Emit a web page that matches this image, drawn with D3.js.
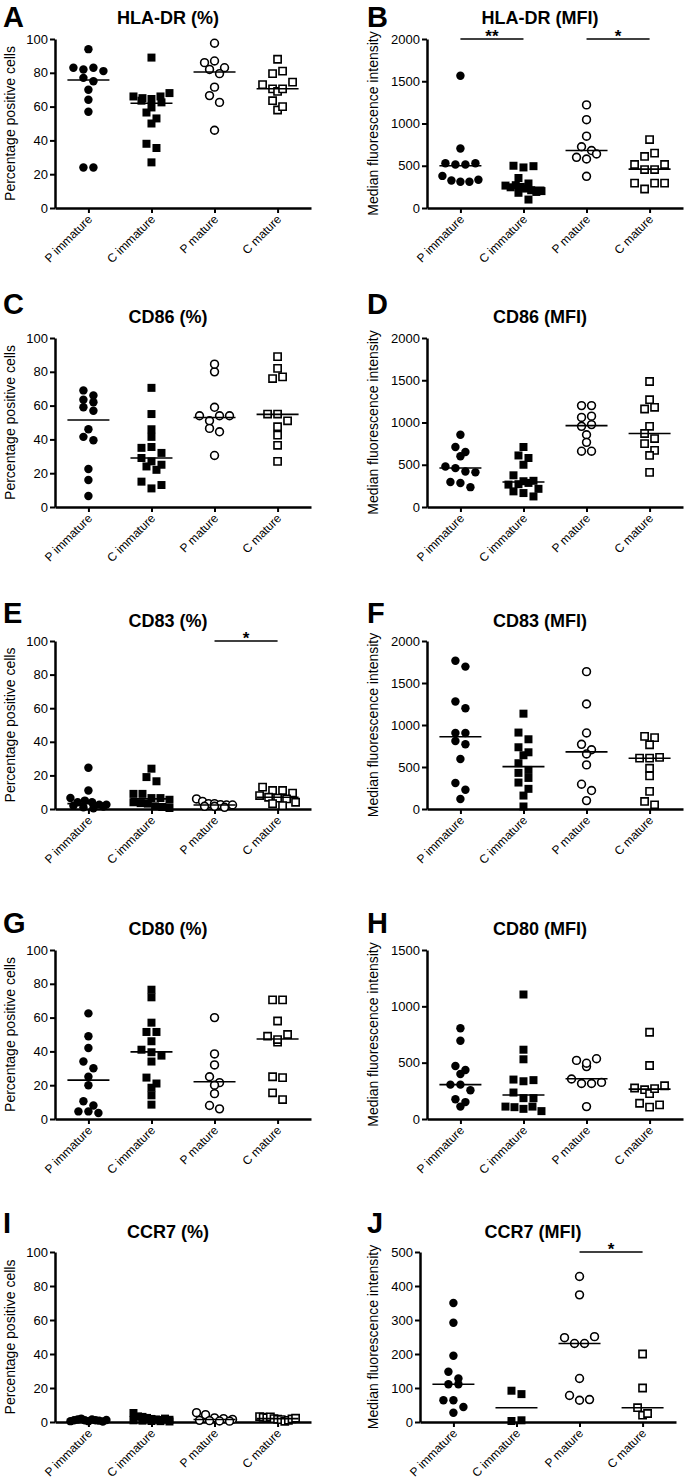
<!DOCTYPE html>
<html>
<head>
<meta charset="utf-8">
<script src="https://cdn.jsdelivr.net/npm/d3@7"></script>
<style>
  body { margin: 0; background: #fff; }
  svg { display: block; font-family: "Liberation Sans", Arial, Helvetica, sans-serif; }
</style>
</head>
<body>
<svg id="chart" width="685" height="1481"></svg>
<script>
const categories = ["P immature", "C immature", "P mature", "C mature"]

const pctTicks = [0, 20, 40, 60, 80, 100]
const mfiTicks = [0, 500, 1000, 1500, 2000]
const cd80MfiTicks = [0, 500, 1000, 1500]
const ccr7MfiTicks = [0, 100, 200, 300, 400, 500]

// values per group, in category order
const hladrPct = [
  [94, 83, 82, 83, 81, 77, 75, 70, 64, 57, 24, 24],
  [89, 66, 65, 63.5, 64.5, 66, 68, 59.5, 62.5, 56.5, 53, 50, 38, 35.5, 27],
  [97.5, 86, 87, 83, 82, 79.5, 71.5, 66.5, 62.5, 46],
  [88, 79.5, 81, 73, 70.5, 69, 70.5, 74.5, 63.5, 58, 60]
]
const hladrPctMedian = [75.7, 62, 80.5, 70.6]

const hladrMfi = [
  [1565, 705, 530, 515, 515, 530, 380, 325, 310, 310, 335],
  [500, 480, 495, 355, 290, 265, 245, 270, 250, 230, 210, 190, 180, 200, 100],
  [1220, 1045, 850, 725, 680, 600, 580, 640, 375],
  [810, 610, 650, 515, 455, 455, 515, 295, 225, 295, 295]
]
const hladrMfiMedian = [500, 245, 680, 460]

const cd86Pct = [
  [69, 66, 63.5, 59, 57, 62, 46, 41.5, 39.5, 22.5, 16, 6.5],
  [70.5, 55, 46, 41.5, 35, 35.5, 32, 29, 27, 24, 25, 22, 15, 11, 13],
  [80, 84.5, 59, 54, 51, 54, 54, 46.5, 44.5, 30.5],
  [89, 82, 76, 77, 55, 55, 51, 47.5, 42.5, 36.5, 27]
]
const cd86PctMedian = [51.5, 29, 53, 54.8]

const cd86Mfi = [
  [855, 710, 650, 600, 480, 460, 420, 410, 295, 285, 235],
  [710, 610, 580, 500, 375, 305, 265, 270, 285, 310, 215, 185, 165, 125],
  [1200, 1200, 1060, 1075, 955, 975, 855, 765, 660, 660],
  [1485, 1270, 1160, 1180, 955, 870, 750, 810, 670, 610, 410]
]
const cd86MfiMedian = [462, 296, 963, 870]

const cd83Pct = [
  [24.5, 11, 6.5, 4, 5, 4, 2.6, 2, 2.6, 1, 0.5, 1.5],
  [24, 19, 16.5, 9, 9, 6.5, 6.5, 5.5, 4, 3.5, 3.2, 1.6, 1.2, 0.6],
  [6, 4.5, 3.2, 3.2, 2.6, 2.4, 2.4, 1.6, 1.6, 1],
  [13, 11, 11, 9.5, 8, 7, 6.5, 6, 3.2, 4, 2]
]
const cd83PctMedian = [3.2, 6, 2.4, 7]

const cd83Mfi = [
  [1765, 1695, 1280, 1200, 905, 905, 810, 770, 595, 310, 230, 120],
  [1135, 910, 830, 735, 675, 640, 545, 465, 430, 370, 315, 240, 160, 30],
  [1635, 1250, 905, 770, 705, 655, 525, 295, 220, 100],
  [865, 850, 765, 605, 605, 615, 485, 395, 210, 90, 50]
]
const cd83MfiMedian = [860, 505, 680, 605]

const cd80Pct = [
  [62.5, 49, 42, 34, 30, 25, 20, 10.5, 8, 4.5, 4.5, 3.5],
  [76.5, 72, 57, 51.5, 51.5, 46, 41, 39.5, 37.5, 34, 24.5, 21, 18.5, 14, 8.5],
  [60, 38.5, 32, 25, 21.5, 20, 15, 8, 6],
  [70.5, 70.5, 58, 49, 45.5, 47, 50, 25, 24.5, 15.5, 11.5]
]
const cd80PctMedian = [23, 39.7, 22, 47.3]

const cd80Mfi = [
  [805, 695, 470, 435, 400, 305, 305, 255, 175, 150, 110],
  [1105, 615, 530, 350, 335, 345, 235, 185, 185, 110, 105, 90, 110, 70],
  [520, 465, 495, 535, 355, 315, 315, 325, 110],
  [770, 475, 275, 260, 225, 270, 295, 140, 105, 125]
]
const cd80MfiMedian = [305, 213, 357, 265]

const ccr7Pct = [
  [0.5, 1, 1.5, 2, 1, 0.5, 1.5, 1, 0.8, 0.3, 1.2],
  [5.3, 3.3, 3, 2.4, 1.8, 1.5, 1.2, 1, 0.8, 0.6, 0.5, 0.3, 2, 1.3],
  [5.5, 4.3, 2.4, 2, 1.5, 1, 0.8, 0.6, 0.5],
  [3.2, 2.8, 2.5, 3, 2, 1.6, 1.4, 0.4, 1, 1.8, 2.2]
]
const ccr7PctMedian = [1, 1.3, 1.5, 2]

const ccr7Mfi = [
  [350, 292, 195, 148, 128, 111, 111, 64, 64, 44, 27],
  [92, 82, 3, 5],
  [428, 374, 248, 231, 231, 251, 128, 78, 64, 66],
  [200, 100, 42, 20, 25]
]
const ccr7MfiMedian = [111, 42, 231, 42]

// significance bars: [from category, to category, label]
const hladrMfiSig = [[0, 1, "**"], [2, 3, "*"]]
const cd83PctSig = [[2, 3, "*"]]
const ccr7MfiSig = [[2, 3, "*"]]

const pctLabel = "Percentage positive cells"
const mfiLabel = "Median fluorescence intensity"

const panels = [
  {letter: "A", title: "HLA-DR (%)", values: hladrPct, medians: hladrPctMedian, ticks: pctTicks, ylabel: pctLabel},
  {letter: "B", title: "HLA-DR (MFI)", values: hladrMfi, medians: hladrMfiMedian, ticks: mfiTicks, ylabel: mfiLabel, sig: hladrMfiSig},
  {letter: "C", title: "CD86 (%)", values: cd86Pct, medians: cd86PctMedian, ticks: pctTicks, ylabel: pctLabel},
  {letter: "D", title: "CD86 (MFI)", values: cd86Mfi, medians: cd86MfiMedian, ticks: mfiTicks, ylabel: mfiLabel},
  {letter: "E", title: "CD83 (%)", values: cd83Pct, medians: cd83PctMedian, ticks: pctTicks, ylabel: pctLabel, sig: cd83PctSig},
  {letter: "F", title: "CD83 (MFI)", values: cd83Mfi, medians: cd83MfiMedian, ticks: mfiTicks, ylabel: mfiLabel},
  {letter: "G", title: "CD80 (%)", values: cd80Pct, medians: cd80PctMedian, ticks: pctTicks, ylabel: pctLabel},
  {letter: "H", title: "CD80 (MFI)", values: cd80Mfi, medians: cd80MfiMedian, ticks: cd80MfiTicks, ylabel: mfiLabel},
  {letter: "I", title: "CCR7 (%)", values: ccr7Pct, medians: ccr7PctMedian, ticks: pctTicks, ylabel: pctLabel},
  {letter: "J", title: "CCR7 (MFI)", values: ccr7Mfi, medians: ccr7MfiMedian, ticks: ccr7MfiTicks, ylabel: mfiLabel, sig: ccr7MfiSig}
]

// page layout
const rows = [
  {letterY: 27, titleY: 24, top: 39, bottom: 208},
  {letterY: 314, titleY: 323, top: 338, bottom: 507},
  {letterY: 623, titleY: 627, top: 641, bottom: 809},
  {letterY: 933, titleY: 935, top: 950, bottom: 1119},
  {letterY: 1233, titleY: 1238, top: 1252, bottom: 1422}
]
const cols = [
  {letterX: 3, labelX: 10, tickStart: 28},
  {letterX: 367, labelX: 373, tickStart: 393}
]

const shapes = [
  {type: d3.symbolCircle, size: 56, fill: "#000"},
  {type: d3.symbolSquare, size: 64, fill: "#000"},
  {type: d3.symbolCircle, size: 48, fill: "#fff"},
  {type: d3.symbolSquare, size: 52, fill: "#fff"}
]

// spread points that sit at about the same height side by side
function swarm(ys) {
  const order = d3.range(ys.length).sort((a, b) => ys[a] - ys[b])
  const offs = ys.map(() => 0)
  let group = []
  const flush = () => {
    const n = group.length
    const step = n > 1 ? Math.min(10, 36 / (n - 1)) : 0
    group.slice().sort((a, b) => a - b).forEach((k, j) => offs[k] = (j - (n - 1) / 2) * step)
    group = []
  }
  order.forEach(k => {
    if (group.length && ys[k] - ys[group[0]] >= 7) flush()
    group.push(k)
  })
  flush()
  return offs
}

const svg = d3.select("#chart")

panels.forEach((p, i) => {
  const col = cols[i % 2]
  const row = rows[Math.floor(i / 2)]
  const yMax = p.ticks[p.ticks.length - 1]
  const axisX = col.tickStart + String(yMax).length * 7 + 6

  const x = d3.scalePoint().domain(categories).range([axisX, axisX + 256]).padding(0.53)
  const y = d3.scaleLinear().domain([0, yMax]).range([row.bottom, row.top])

  const g = svg.append("g")

  g.append("text")
    .attr("x", col.letterX).attr("y", row.letterY)
    .attr("font-size", 29).attr("font-weight", "bold")
    .text(p.letter)

  g.append("text")
    .attr("x", axisX + 113).attr("y", row.titleY)
    .attr("text-anchor", "middle")
    .attr("font-size", 18).attr("font-weight", "bold")
    .text(p.title)

  g.append("text")
    .attr("transform", `translate(${col.labelX},${(row.top + row.bottom) / 2}) rotate(-90)`)
    .attr("text-anchor", "middle").attr("dy", "0.35em")
    .attr("font-size", 14)
    .text(p.ylabel)

  const yAxis = g.append("g")
    .attr("transform", `translate(${axisX},0)`)
    .call(d3.axisLeft(y).tickValues(p.ticks).tickFormat(d3.format("d"))
      .tickSize(5).tickPadding(2).tickSizeOuter(0))

  const xAxis = g.append("g")
    .attr("transform", `translate(0,${row.bottom})`)
    .call(d3.axisBottom(x).tickSize(5).tickSizeOuter(0))

  ;[yAxis, xAxis].forEach(a => {
    a.attr("font-family", null).attr("font-size", null)
    a.select(".domain").attr("stroke-width", 2.5)
    a.selectAll(".tick line").attr("stroke-width", 2)
    a.selectAll("text").attr("fill", "#000")
  })
  yAxis.selectAll("text").attr("font-size", 13)

  xAxis.selectAll("text")
    .attr("font-size", 12)
    .attr("x", 0).attr("y", 0).attr("dy", 0)
    .attr("text-anchor", "end")
    .attr("transform", "translate(4,12) rotate(-45)")

  p.values.forEach((vals, ci) => {
    const cx = x(categories[ci])
    const ys = vals.map(v => y(v))
    const offs = swarm(ys)
    const shape = shapes[ci]

    g.selectAll(`path.grp${ci}`)
      .data(vals)
      .enter()
      .append("path")
        .attr("class", `grp${ci}`)
        .attr("d", d3.symbol().type(shape.type).size(shape.size))
        .attr("transform", (d, k) => `translate(${cx + offs[k]},${ys[k]})`)
        .attr("fill", shape.fill)
        .attr("stroke", "#000")
        .attr("stroke-width", shape.fill === "#000" ? 0 : 1.6)

    g.append("line")
      .attr("x1", cx - 21).attr("x2", cx + 21)
      .attr("y1", y(p.medians[ci])).attr("y2", y(p.medians[ci]))
      .attr("stroke", "#000").attr("stroke-width", 1.6)
  })

  ;(p.sig || []).forEach(([a, b, label]) => {
    const x1 = x(categories[a]), x2 = x(categories[b])
    g.append("line")
      .attr("x1", x1).attr("x2", x2)
      .attr("y1", y(yMax)).attr("y2", y(yMax))
      .attr("stroke", "#000").attr("stroke-width", 1.5)
    g.append("text")
      .attr("x", (x1 + x2) / 2).attr("y", y(yMax) + 3)
      .attr("text-anchor", "middle")
      .attr("font-size", 17).attr("font-weight", "bold")
      .text(label)
  })
})
</script>
</body>
</html>
